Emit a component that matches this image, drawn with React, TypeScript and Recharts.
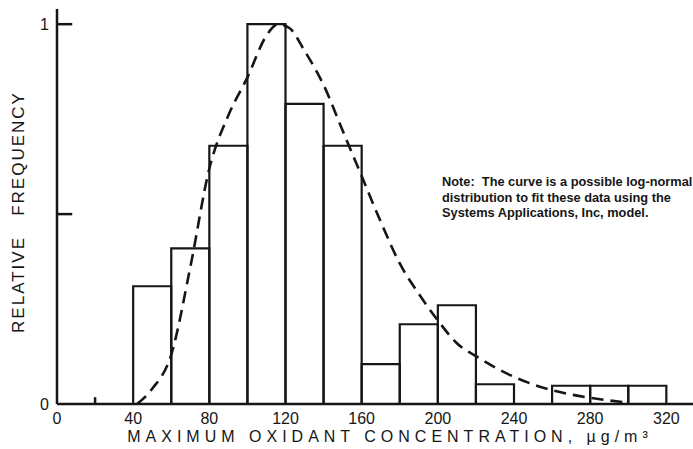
import React from 'react';
import { ComposedChart, XAxis, YAxis, Line, ReferenceArea, ReferenceLine } from 'recharts';

// histogram bins (lower edge, upper edge) and relative frequency
const binStart = [40, 60, 80, 100, 120, 140, 160, 180, 200, 220, 260, 280, 300];
const binEnd = [60, 80, 100, 120, 140, 160, 180, 200, 220, 240, 280, 300, 320];
const binFreq = [0.31, 0.41, 0.68, 1.0, 0.79, 0.68, 0.105, 0.21, 0.26, 0.052, 0.048, 0.048, 0.048];

// fitted log-normal curve, read at sample concentrations
const curveX = [42, 50, 60, 70, 80, 90, 100, 110, 116, 122, 130, 140, 150, 160, 170, 180, 190, 200, 210, 222, 238, 254, 271, 289, 297];
const curveY = [0, 0.04, 0.13, 0.36, 0.62, 0.76, 0.86, 0.97, 1.0, 0.99, 0.93, 0.84, 0.72, 0.6, 0.48, 0.37, 0.29, 0.22, 0.16, 0.12, 0.076, 0.045, 0.024, 0.01, 0.005];

const xTicks = [0, 40, 80, 120, 160, 200, 240, 280, 320];
const yTicks = [0, 0.5, 1];

const curveData = curveX.map((x, i) => ({ x, y: curveY[i] }));

const INK = '#161616';
const FONT = '"Liberation Sans", Arial, sans-serif';

const YTitle = () => (
  <text
    x={18}
    y={212}
    transform="rotate(-90 18 212)"
    textAnchor="middle"
    dominantBaseline="central"
    fill={INK}
    fontFamily={FONT}
    fontSize={17}
    letterSpacing={2}
    style={{ whiteSpace: 'pre' }}
  >
    {'RELATIVE   FREQUENCY'}
  </text>
);

const App: React.FC = () => {
  return (
    <div style={{ position: 'absolute', left: 0, top: 0, width: 693, height: 449, background: '#fff' }}>
      <ComposedChart width={693} height={449} margin={{ top: 9, right: 0, bottom: 15, left: 0 }}>
        <XAxis
          type="number"
          dataKey="x"
          domain={[0, 334]}
          ticks={xTicks}
          tickLine={false}
          tickSize={0}
          tickMargin={9}
          axisLine={{ stroke: INK, strokeWidth: 2.5 }}
          tick={{ fill: INK, fontSize: 16, fontFamily: FONT }}
          height={30}
          label={{
            value: 'MAXIMUM OXIDANT CONCENTRATION, \u00b5g/m\u00b3',
            position: 'bottom',
            offset: -3,
            dx: 15,
            fill: INK,
            fontSize: 16,
            fontFamily: FONT,
            letterSpacing: 5,
          }}
        />
        <YAxis
          type="number"
          domain={[0, 1.04]}
          ticks={yTicks}
          width={57}
          tickLine={false}
          tickSize={0}
          tickMargin={8}
          tickFormatter={(v: number) => (v === 0.5 ? '' : String(v))}
          axisLine={{ stroke: INK, strokeWidth: 2.5 }}
          tick={{ fill: INK, fontSize: 16, fontFamily: FONT }}
          label={{ content: () => <YTitle /> }}
        />
        {binStart.map((s, i) => (
          <ReferenceArea
            key={`bin-${s}`}
            x1={s}
            x2={binEnd[i]}
            y1={0}
            y2={binFreq[i]}
            fill="none"
            fillOpacity={0}
            stroke={INK}
            strokeWidth={2.2}
            ifOverflow="visible"
          />
        ))}
        {/* inward tick marks on the frequency axis, small tick at 20 on the concentration axis */}
        <ReferenceLine segment={[{ x: 0, y: 1 }, { x: 8, y: 1 }]} stroke={INK} strokeWidth={2.5} ifOverflow="visible" />
        <ReferenceLine segment={[{ x: 0, y: 0.5 }, { x: 8, y: 0.5 }]} stroke={INK} strokeWidth={2.5} ifOverflow="visible" />
        <ReferenceLine segment={[{ x: 20, y: 0 }, { x: 20, y: 0.018 }]} stroke={INK} strokeWidth={2.5} ifOverflow="visible" />
        <Line
          data={curveData}
          dataKey="y"
          type="monotone"
          stroke={INK}
          strokeWidth={2.6}
          strokeDasharray="12 7"
          dot={false}
          activeDot={false}
          isAnimationActive={false}
        />
      </ComposedChart>
      <div
        style={{
          position: 'absolute',
          left: 442,
          top: 174,
          width: 260,
          fontFamily: FONT,
          fontWeight: 'bold',
          fontSize: 12.8,
          lineHeight: '15.5px',
          color: INK,
          whiteSpace: 'pre',
        }}
      >
        {'Note:  The curve is a possible log-normal\ndistribution to fit these data using the\nSystems Applications, Inc, model.'}
      </div>
    </div>
  );
};

export default App;
